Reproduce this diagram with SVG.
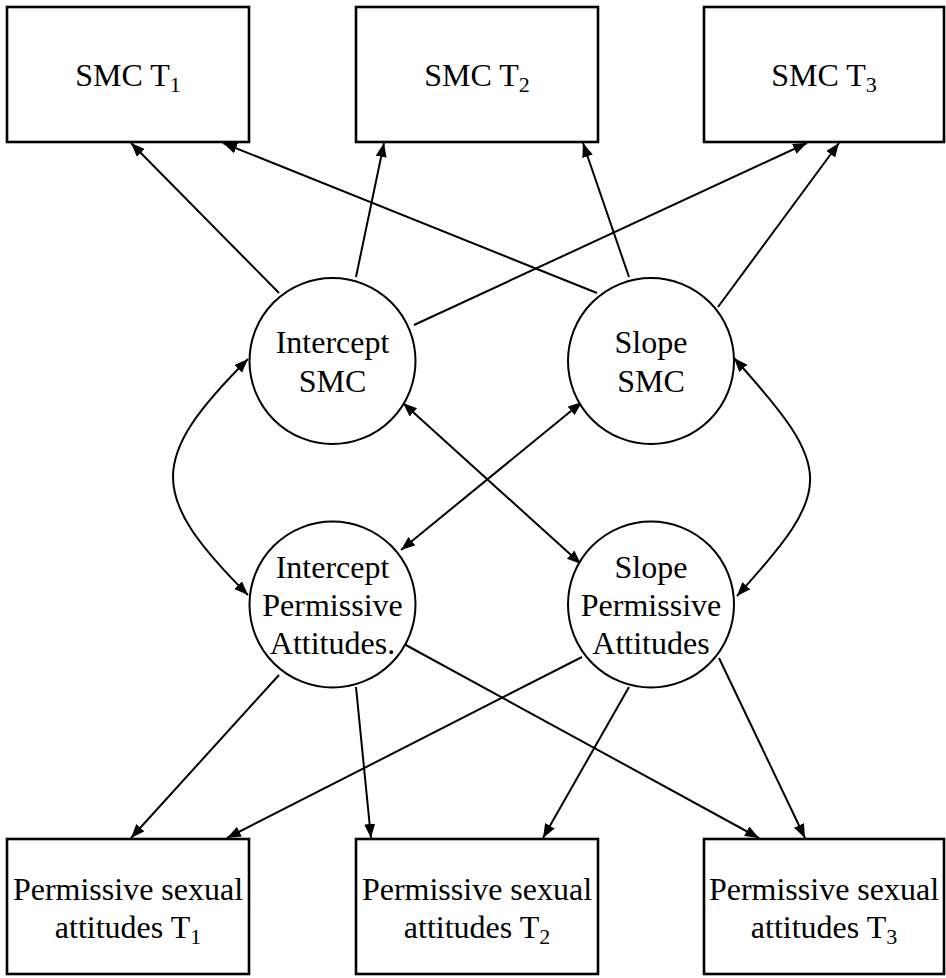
<svg xmlns="http://www.w3.org/2000/svg" width="946" height="978" viewBox="0 0 946 978">
<style>
.box{fill:#fff;stroke:#000;stroke-width:2.6}
.lat{fill:#fff;stroke:#000;stroke-width:2}
.t{font-family:"Liberation Serif","Times New Roman",serif;font-size:32px;fill:#000;text-anchor:middle}
.sub{font-size:22px}
.c{fill:none;stroke:#000;stroke-width:2;marker-end:url(#ah)}
.d{fill:none;stroke:#000;stroke-width:2;marker-start:url(#ah);marker-end:url(#ah)}
</style>
<defs>
<marker id="ah" markerUnits="userSpaceOnUse" markerWidth="16" markerHeight="12" refX="14" refY="5.5" orient="auto-start-reverse">
<path d="M0,0 L14,5.5 L0,11 z" fill="#000"/>
</marker>
</defs>
<rect width="946" height="978" fill="#fff"/>
<g id="connectors">
<line class="c" x1="279" y1="293" x2="131" y2="143"/>
<line class="c" x1="356" y1="277" x2="384" y2="143"/>
<line class="c" x1="414" y1="325" x2="807" y2="143"/>
<line class="c" x1="597" y1="293" x2="223" y2="143"/>
<line class="c" x1="629" y1="277" x2="583" y2="143"/>
<line class="c" x1="718" y1="307" x2="839" y2="143"/>
<line class="c" x1="279" y1="675" x2="131" y2="838"/>
<line class="c" x1="356" y1="687" x2="371" y2="838"/>
<line class="c" x1="404" y1="644" x2="759" y2="838"/>
<line class="c" x1="582" y1="657" x2="227" y2="838"/>
<line class="c" x1="629" y1="687" x2="543" y2="838"/>
<line class="c" x1="719" y1="658" x2="805" y2="838"/>
<path class="d" d="M248,359 C148,459 148,495 248,595"/>
<path class="d" d="M734,358 C835,470 835,488 737,596"/>
<line class="d" x1="403" y1="403" x2="581" y2="564"/>
<line class="d" x1="582" y1="402" x2="401" y2="550"/>
</g>
<g id="smc_t1"><rect class="box" x="7" y="7" width="242" height="135"/><text class="t" x="128" y="86">SMC T<tspan class="sub" dy="6">1</tspan></text></g>
<g id="smc_t2"><rect class="box" x="356" y="7" width="242" height="135"/><text class="t" x="477" y="86">SMC T<tspan class="sub" dy="6">2</tspan></text></g>
<g id="smc_t3"><rect class="box" x="704" y="7" width="240" height="135"/><text class="t" x="824" y="86">SMC T<tspan class="sub" dy="6">3</tspan></text></g>
<g id="intercept_smc"><circle class="lat" cx="332.5" cy="361" r="83"/><text class="t" x="332.5" y="353">Intercept</text><text class="t" x="332.5" y="392">SMC</text></g>
<g id="slope_smc"><circle class="lat" cx="651" cy="361" r="83"/><text class="t" x="651" y="353">Slope</text><text class="t" x="651" y="392">SMC</text></g>
<g id="intercept_pa"><circle class="lat" cx="332.5" cy="604.5" r="83"/><text class="t" x="332.5" y="578">Intercept</text><text class="t" x="332.5" y="616">Permissive</text><text class="t" x="332.5" y="654">Attitudes.</text></g>
<g id="slope_pa"><circle class="lat" cx="651" cy="604.5" r="83"/><text class="t" x="651" y="578">Slope</text><text class="t" x="651" y="616">Permissive</text><text class="t" x="651" y="654">Attitudes</text></g>
<g id="psa_t1"><rect class="box" x="7" y="839" width="242" height="135"/><text class="t" x="128" y="900">Permissive sexual</text><text class="t" x="128" y="938">attitudes T<tspan class="sub" dy="6">1</tspan></text></g>
<g id="psa_t2"><rect class="box" x="356" y="839" width="242" height="135"/><text class="t" x="477" y="900">Permissive sexual</text><text class="t" x="477" y="938">attitudes T<tspan class="sub" dy="6">2</tspan></text></g>
<g id="psa_t3"><rect class="box" x="704" y="839" width="240" height="135"/><text class="t" x="824" y="900">Permissive sexual</text><text class="t" x="824" y="938">attitudes T<tspan class="sub" dy="6">3</tspan></text></g>
</svg>
